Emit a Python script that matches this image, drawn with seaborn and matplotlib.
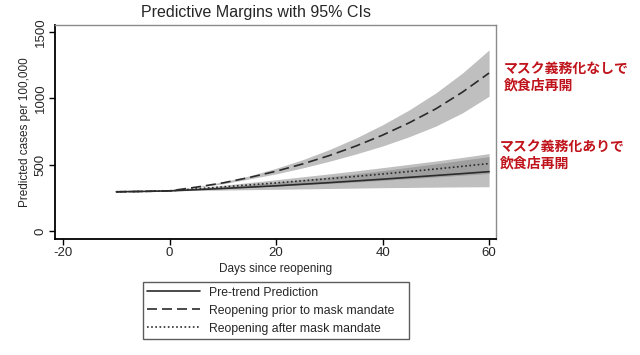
import numpy as np
import pandas as pd
import matplotlib
matplotlib.use("Agg")
import matplotlib.pyplot as plt
import seaborn as sns

## Dados ##
days = [-10, -5, 0, 5, 10, 15, 20, 25, 30, 35, 40, 45, 50, 55, 60]
pretrend = [295, 298, 302, 311, 320, 330, 340, 352, 364, 377, 390, 404, 418, 432, 447]
prior = [295, 298, 302, 330, 362, 403, 450, 505, 568, 640, 722, 815, 920, 1046, 1190]
after = [295, 298, 302, 317, 332, 347, 362, 378, 394, 411, 429, 448, 467, 487, 508]

band_days = [0, 5, 10, 15, 20, 25, 30, 35, 40, 45, 50, 55, 60]
pretrend_lo = [302, 305, 308, 311, 314, 317, 320, 323, 326, 328, 330, 332, 333]
pretrend_hi = [302, 317, 332, 349, 366, 387, 408, 431, 454, 480, 506, 533, 560]
prior_lo = [302, 327, 355, 392, 430, 475, 525, 580, 640, 710, 790, 890, 1015]
prior_hi = [302, 333, 370, 415, 472, 537, 613, 700, 800, 912, 1040, 1190, 1364]
after_lo = [302, 311, 320, 329, 338, 348, 358, 369, 381, 394, 407, 420, 433]
after_hi = [302, 323, 344, 365, 386, 408, 430, 453, 477, 502, 527, 554, 583]

labels = ["Pre-trend Prediction", "Reopening prior to mask mandate", "Reopening after mask mandate"]
note_no_mask = "マスク義務化なしで\n飲食店再開"
note_mask = "マスク義務化ありで\n飲食店再開"

df = pd.DataFrame({"days": days * 3,
                   "cases": pretrend + prior + after,
                   "grupo": [labels[0]] * len(days) + [labels[1]] * len(days) + [labels[2]] * len(days)})

sns.set_style("white")
plt.rcParams["font.family"] = ["Liberation Sans", "DejaVu Sans"]
plt.rcParams["axes.unicode_minus"] = False

fig = plt.figure(figsize=(6.4, 3.55), dpi=100)
ax = fig.add_axes([0.086, 0.327, 0.689, 0.603])

## Intervalos de confiança ##
ax.fill_between(band_days, prior_lo, prior_hi, color="#808080", alpha=0.5, lw=0)
ax.fill_between(band_days, pretrend_lo, pretrend_hi, color="#808080", alpha=0.5, lw=0)
ax.fill_between(band_days, after_lo, after_hi, color="#808080", alpha=0.5, lw=0)

sns.lineplot(data=df, x="days", y="cases", hue="grupo", style="grupo",
             hue_order=labels, style_order=labels,
             palette=["#2b2b2b"] * 3,
             dashes=[(None, None), (6, 3), (1, 1.5)], lw=1.2, ax=ax)

ax.set_xlim(-21.5, 61.3)
ax.set_ylim(-60, 1553)
ax.set_xticks([-20, 0, 20, 40, 60])
ax.set_yticks([0, 500, 1000, 1500])
ax.tick_params(axis="both", direction="out", length=4, width=1, labelsize=9.5, color="black",
               bottom=True, left=True, pad=2)
for lab in ax.get_yticklabels():
    lab.set_rotation(90)
    lab.set_va("center")
ax.set_xlabel("Days since reopening", fontsize=8.5, labelpad=3)
ax.set_ylabel("Predicted cases per 100,000", fontsize=8.5, labelpad=3)
fig.text(256 / 640, 1 - 13 / 355, "Predictive Margins with 95% CIs", fontsize=11.5,
         ha="center", va="center")

for s in ["left", "bottom"]:
    ax.spines[s].set_color("black")
    ax.spines[s].set_linewidth(1.3)
for s in ["top", "right"]:
    ax.spines[s].set_color("#8a8a8a")
    ax.spines[s].set_linewidth(1.0)

## Legenda abaixo do gráfico ##
handles, _ = ax.get_legend_handles_labels()
ax.legend_.remove()
leg = fig.legend(handles, labels, loc="lower left", bbox_to_anchor=(0.223, 0.045, 0.416, 0.163),
                 mode="expand", frameon=True, fancybox=False, fontsize=8.8, handlelength=4.3,
                 borderaxespad=0, labelspacing=0.5, handletextpad=0.8, borderpad=0.35)
leg.get_frame().set_edgecolor("#333333")
leg.get_frame().set_linewidth(1.0)

## Anotações em japonês ##
jp = ["Noto Sans CJK JP", "DejaVu Sans"]
fig.text(504 / 640, 1 - 77 / 355, note_no_mask, color="#c0141c", fontsize=10, fontweight="bold",
         family=jp, va="center", ha="left", linespacing=1.2)
fig.text(500 / 640, 1 - 155 / 355, note_mask, color="#c0141c", fontsize=10, fontweight="bold",
         family=jp, va="center", ha="left", linespacing=1.2)

fig.savefig("out.png", dpi=100)
